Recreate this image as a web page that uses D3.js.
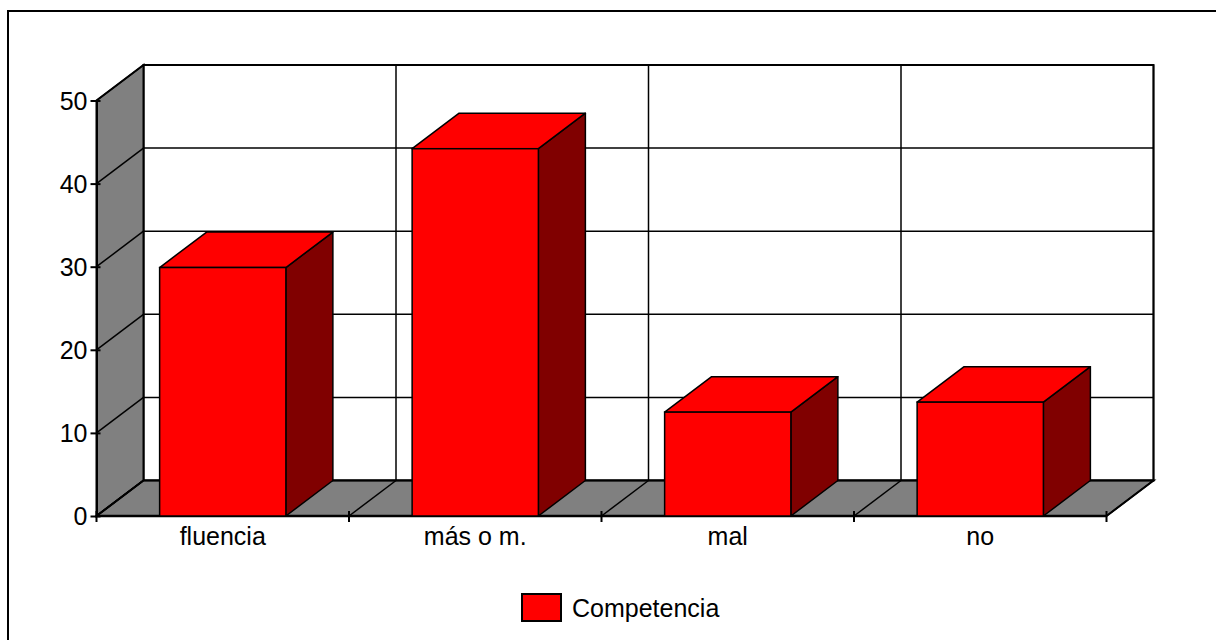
<!DOCTYPE html>
<html>
<head>
<meta charset="utf-8">
<script src="https://cdn.jsdelivr.net/npm/d3@7"></script>
<style>
  html, body { margin: 0; padding: 0; background: #fff; overflow: hidden; }
  svg { display: block; overflow: hidden; font-family: "Liberation Sans", Arial, sans-serif; }
</style>
</head>
<body>
<svg id="chart" width="1216" height="640"></svg>
<script>
// Data
const categories = ["fluencia", "más o m.", "mal", "no"];
const values = [29.9, 44.2, 12.5, 13.7];
const yTicks = [0, 10, 20, 30, 40, 50];
const seriesName = "Competencia";

// Layout
const x0 = 96.5, x1 = 1106.5;   // front floor edge
const yBase = 516, yTop = 100.5; // front value axis
const DX = 47, DY = -35.5;       // depth offset of the 3D box

const svg = d3.select("#chart");

const y = d3.scaleLinear().domain([0, 50]).range([yBase, yTop]);
const xBand = d3.scaleBand().domain(categories).range([x0, x1])
  .paddingInner(0.5).paddingOuter(0.25);
const xCat = d3.scaleBand().domain(categories).range([x0, x1]).padding(0);

const pts = a => a.map(p => p.join(",")).join(" ");

// Outer frame (left and top edges fall inside the view)
svg.append("path")
  .attr("d", "M8,700 V11 H1260")
  .attr("fill", "none").attr("stroke", "#000").attr("stroke-width", 2);

const g = svg.append("g");

// Back wall
g.append("polygon")
  .attr("points", pts([[x0 + DX, yBase + DY], [x1 + DX, yBase + DY], [x1 + DX, yTop + DY], [x0 + DX, yTop + DY]]))
  .attr("fill", "#fff").attr("stroke", "#000").attr("stroke-width", 2);

// Left side wall
g.append("polygon")
  .attr("points", pts([[x0, yBase], [x0 + DX, yBase + DY], [x0 + DX, yTop + DY], [x0, yTop]]))
  .attr("fill", "#808080").attr("stroke", "#000").attr("stroke-width", 2);

// Floor
g.append("polygon")
  .attr("points", pts([[x0, yBase], [x1, yBase], [x1 + DX, yBase + DY], [x0 + DX, yBase + DY]]))
  .attr("fill", "#808080").attr("stroke", "#000").attr("stroke-width", 2);

// Horizontal gridlines on the back wall and matching diagonals on the side wall
yTicks.forEach(t => {
  g.append("line")
    .attr("x1", x0 + DX).attr("x2", x1 + DX)
    .attr("y1", y(t) + DY).attr("y2", y(t) + DY)
    .attr("stroke", "#000").attr("stroke-width", 1.5);
  g.append("line")
    .attr("x1", x0).attr("y1", y(t))
    .attr("x2", x0 + DX).attr("y2", y(t) + DY)
    .attr("stroke", "#000").attr("stroke-width", 1.5);
});

// Category boundaries: vertical lines on back wall, diagonals on floor
const bounds = categories.map(c => xCat(c)).concat([x1]);
bounds.forEach((bx, i) => {
  if (i > 0) {
    g.append("line")
      .attr("x1", bx + DX).attr("x2", bx + DX)
      .attr("y1", yBase + DY).attr("y2", yTop + DY)
      .attr("stroke", "#000").attr("stroke-width", 1.5);
  }
  g.append("line")
    .attr("x1", bx).attr("y1", yBase)
    .attr("x2", bx + DX).attr("y2", yBase + DY)
    .attr("stroke", "#000").attr("stroke-width", 1.5);
});

// Value axis
const yAxis = d3.axisLeft(y).tickValues(yTicks).tickSize(0).tickPadding(9);
const ya = g.append("g").attr("transform", `translate(${x0},0)`).call(yAxis);
ya.select(".domain").attr("stroke", "#000").attr("stroke-width", 2);
ya.selectAll("text").attr("font-size", 25).attr("fill", "#000")
  .attr("font-family", "Liberation Sans, Arial, sans-serif").attr("dy", "0.35em");
ya.selectAll(".tick").append("line")
  .attr("x1", -6).attr("x2", 4).attr("stroke", "#000").attr("stroke-width", 2);

// Category axis
g.append("line")
  .attr("x1", x0).attr("x2", x1).attr("y1", yBase).attr("y2", yBase)
  .attr("stroke", "#000").attr("stroke-width", 2.5);
bounds.forEach(bx => {
  g.append("line")
    .attr("x1", bx).attr("x2", bx).attr("y1", yBase - 5).attr("y2", yBase + 6)
    .attr("stroke", "#000").attr("stroke-width", 2);
});
g.selectAll("text.cat").data(categories).join("text")
  .attr("class", "cat")
  .attr("x", d => xCat(d) + xCat.bandwidth() / 2)
  .attr("y", 545)
  .attr("text-anchor", "middle")
  .attr("font-size", 25).attr("fill", "#000")
  .text(d => d);

// 3D bars
const bars = g.selectAll("g.bar").data(categories.map((c, i) => ({ c, v: values[i] })))
  .join("g").attr("class", "bar");

bars.each(function (d) {
  const bl = xBand(d.c), br = bl + xBand.bandwidth();
  const yt = y(d.v), yb = y(0);
  const sel = d3.select(this);
  // side face
  sel.append("polygon")
    .attr("points", pts([[br, yb], [br + DX, yb + DY], [br + DX, yt + DY], [br, yt]]))
    .attr("fill", "#800000").attr("stroke", "#000").attr("stroke-width", 1.5)
    .attr("stroke-linejoin", "round");
  // top face
  sel.append("polygon")
    .attr("points", pts([[bl, yt], [br, yt], [br + DX, yt + DY], [bl + DX, yt + DY]]))
    .attr("fill", "#ff0000").attr("stroke", "#000").attr("stroke-width", 1.5)
    .attr("stroke-linejoin", "round");
  // front face
  sel.append("rect")
    .attr("x", bl).attr("y", yt).attr("width", br - bl).attr("height", yb - yt)
    .attr("fill", "#ff0000").attr("stroke", "#000").attr("stroke-width", 1.5);
});

// Legend
const lg = svg.append("g");
lg.append("rect")
  .attr("x", 522).attr("y", 594).attr("width", 39).attr("height", 27)
  .attr("fill", "#ff0000").attr("stroke", "#000").attr("stroke-width", 2);
lg.append("text")
  .attr("x", 572).attr("y", 617)
  .attr("font-size", 25).attr("fill", "#000")
  .text(seriesName);
</script>
</body>
</html>
